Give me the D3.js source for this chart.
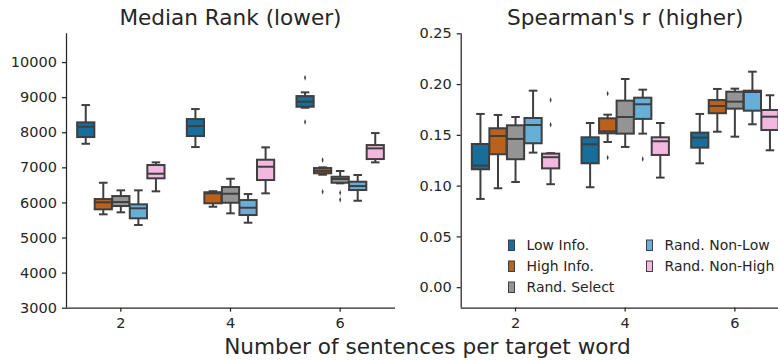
<!DOCTYPE html>
<html>
<head>
<meta charset="utf-8">
<script src="https://cdn.jsdelivr.net/npm/d3@7"></script>
<style>
  html, body { margin: 0; padding: 0; background: #fff; }
  svg { display: block; font-family: "DejaVu Sans", sans-serif; }
</style>
</head>
<body>
<svg id="chart" width="778" height="360"></svg>
<script>
// categories and series
const sentenceCounts = ['2', '4', '6'];
const methods = ['Low Info.', 'High Info.', 'Rand. Select', 'Rand. Non-Low', 'Rand. Non-High'];
const methodColors = ['#176d9c', '#ba611b', '#949494', '#68afd7', '#f2b8e0'];

// box stats per method, per sentence count: [whisker low, q1, median, q3, whisker high]
const rankStats = [
  [[7672, 7863, 8157, 8282, 8775], [7578, 7892, 8177, 8376, 8661], [8698, 8727, 8869, 9031, 9137]],
  [[5661, 5803, 6003, 6097, 6561], [5877, 5975, 6260, 6290, 6320], [6790, 6830, 6900, 6980, 7000]],
  [[5718, 5897, 6011, 6182, 6345], [5689, 5991, 6248, 6439, 6675], [6544, 6561, 6667, 6732, 6895]],
  [[5356, 5547, 5832, 5946, 6345], [5422, 5641, 5849, 6068, 6239], [6048, 6353, 6467, 6590, 6781]],
  [[6316, 6687, 6818, 7066, 7142], [6259, 6638, 7017, 7217, 7570], [7142, 7236, 7541, 7635, 7977]],
];
const rankOutliers = [
  [[], [], [9553, 8291]],
  [[], [], [7208, 6305]],
  [[], [], [6276, 6077]],
  [[], [], []],
  [[], [], []],
];

const spearmanStats = [
  [[0.0869, 0.1161, 0.1197, 0.1410, 0.1706], [0.0984, 0.1220, 0.1407, 0.1476, 0.1617], [0.1220, 0.1374, 0.1472, 0.1522, 0.1706]],
  [[0.0974, 0.1309, 0.1489, 0.1565, 0.1696], [0.1430, 0.1515, 0.1535, 0.1663, 0.1699], [0.1531, 0.1713, 0.1784, 0.1843, 0.1952]],
  [[0.1036, 0.1260, 0.1460, 0.1594, 0.1676], [0.1381, 0.1512, 0.1676, 0.1837, 0.2050], [0.1482, 0.1758, 0.1827, 0.1925, 0.1955]],
  [[0.1325, 0.1417, 0.1597, 0.1666, 0.1935], [0.1512, 0.1657, 0.1801, 0.1866, 0.1945], [0.1604, 0.1738, 0.1922, 0.1935, 0.2122]],
  [[0.1014, 0.1170, 0.1280, 0.1315, 0.1320], [0.1079, 0.1302, 0.1437, 0.1476, 0.1617], [0.1348, 0.1548, 0.1679, 0.1745, 0.1890]],
];
const spearmanOutliers = [
  [[], [], []],
  [[], [0.1906, 0.1276], []],
  [[], [], []],
  [[], [0.1263], []],
  [[0.1843, 0.1600], [], []],
];

const rankTicks = [3000, 4000, 5000, 6000, 7000, 8000, 9000, 10000];
const spearmanTicks = [0.00, 0.05, 0.10, 0.15, 0.20, 0.25];

const ink = '#262626';
const lineColor = '#3f3f3f';
const smallFont = '14.5px';
const legendFont = '14px';
const bigFont = '21.6px';

const svg = d3.select('#chart');

function drawPanel(opts) {
  const { x0, x1, top, bottom, domain, ticks, fmt, stats, outliers, title } = opts;
  const g = svg.append('g');

  const x = d3.scaleBand().domain(sentenceCounts).range([x0, x1]).padding(0);
  const hue = d3.scaleBand().domain(methods)
    .range([x.bandwidth() * 0.1, x.bandwidth() * 0.9]).padding(0);
  const y = d3.scaleLinear().domain(domain).range([bottom, top]);

  // axes
  const yAxis = g.append('g')
    .attr('transform', `translate(${x0},0)`)
    .call(d3.axisLeft(y).tickValues(ticks).tickFormat(fmt).tickSize(4).tickPadding(5));
  const xAxis = g.append('g')
    .attr('transform', `translate(0,${bottom})`)
    .call(d3.axisBottom(x).tickSize(4).tickPadding(6));
  [yAxis, xAxis].forEach(a => {
    a.select('.domain').attr('stroke', ink).attr('stroke-width', 1.25);
    a.selectAll('.tick line').attr('stroke', ink).attr('stroke-width', 1.25);
    a.selectAll('.tick text').attr('fill', ink).style('font-size', smallFont)
      .style('font-family', '"DejaVu Sans", sans-serif');
  });
  xAxis.select('.domain').attr('d', `M${x0},0.5H${x1}`);
  yAxis.select('.domain').attr('d', `M0.5,${bottom}V${top}`);

  g.append('text')
    .attr('x', (x0 + Math.min(x1, 790)) / 2)
    .attr('y', top - 8.5)
    .attr('text-anchor', 'middle')
    .attr('fill', ink)
    .style('font-size', bigFont)
    .text(title);

  const bw = hue.bandwidth() * 0.98;
  methods.forEach((m, mi) => {
    sentenceCounts.forEach((c, ci) => {
      const [lo, q1, med, q3, hi] = stats[mi][ci];
      const cx = x(c) + hue(m) + hue.bandwidth() / 2;
      const bg = g.append('g').attr('stroke', lineColor).attr('stroke-width', 2);
      bg.append('line').attr('x1', cx).attr('x2', cx).attr('y1', y(q3)).attr('y2', y(hi));
      bg.append('line').attr('x1', cx).attr('x2', cx).attr('y1', y(q1)).attr('y2', y(lo));
      bg.append('line').attr('x1', cx - bw / 4).attr('x2', cx + bw / 4).attr('y1', y(hi)).attr('y2', y(hi));
      bg.append('line').attr('x1', cx - bw / 4).attr('x2', cx + bw / 4).attr('y1', y(lo)).attr('y2', y(lo));
      bg.append('rect')
        .attr('x', cx - bw / 2).attr('width', bw)
        .attr('y', y(q3)).attr('height', Math.max(0.5, y(q1) - y(q3)))
        .attr('fill', methodColors[mi]);
      bg.append('line').attr('x1', cx - bw / 2).attr('x2', cx + bw / 2).attr('y1', y(med)).attr('y2', y(med));
      outliers[mi][ci].forEach(v => {
        g.append('path')
          .attr('d', d3.symbol(d3.symbolDiamond, 7)())
          .attr('transform', `translate(${cx},${y(v)}) scale(0.7,1.2)`)
          .attr('fill', lineColor);
      });
    });
  });
  return g;
}

drawPanel({
  x0: 66, x1: 395, top: 33.3, bottom: 307.7,
  domain: [3000, 10820], ticks: rankTicks, fmt: d3.format('d'),
  stats: rankStats, outliers: rankOutliers, title: 'Median Rank (lower)'
});

const right = drawPanel({
  x0: 460.7, x1: 789.7, top: 33.3, bottom: 307.5,
  domain: [-0.02, 0.25], ticks: spearmanTicks, fmt: d3.format('.2f'),
  stats: spearmanStats, outliers: spearmanOutliers, title: "Spearman's r (higher)"
});

// legend (two columns inside right panel)
const legendPos = [[508, 245], [508, 266], [508, 287], [646, 245], [646, 266]];
methods.forEach((m, i) => {
  const [lx, ly] = legendPos[i];
  const item = right.append('g').attr('transform', `translate(${lx},${ly})`);
  item.append('rect')
    .attr('x', 0.5).attr('y', -5).attr('width', 6).attr('height', 10.5)
    .attr('fill', methodColors[i]).attr('stroke', lineColor).attr('stroke-width', 1);
  item.append('text')
    .attr('x', 18.5).attr('y', 5.2)
    .attr('fill', ink).style('font-size', legendFont)
    .text(m);
});

svg.append('text')
  .attr('x', 427.5).attr('y', 354)
  .attr('text-anchor', 'middle')
  .attr('fill', ink)
  .style('font-size', bigFont)
  .text('Number of sentences per target word');
</script>
</body>
</html>
